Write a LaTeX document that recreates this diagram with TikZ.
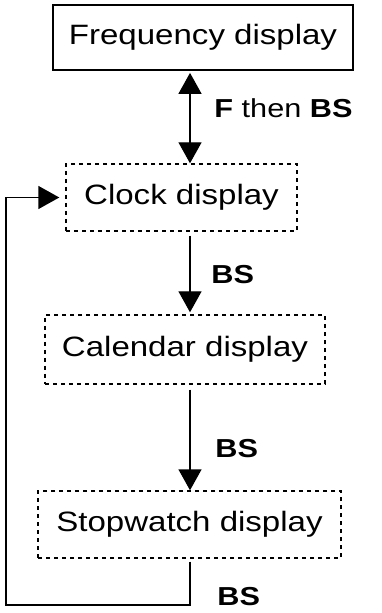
\documentclass[tikz,border=0pt]{standalone}
\usepackage{fontspec}
\setmainfont[FakeStretch=1.18]{Liberation Sans}
\usetikzlibrary{arrows.meta,positioning}
\tikzset{
  dispbox/.style={draw,line width=.9pt,inner sep=0pt,font=\fontsize{14}{16}\selectfont},
  dotbox/.style={dispbox,line width=.7pt,dash pattern=on 2pt off 2pt},
  keylbl/.style={anchor=base west,inner sep=0pt,font=\fontsize{13}{15}\selectfont},
  tip/.tip={Triangle[width=11.5pt,length=10.5pt]},
  flow/.style={line width=.7pt,-tip},
  twoway/.style={line width=.7pt,tip-tip}
}

\begin{document}
\begin{tikzpicture}[x=.5pt,y=-.5pt]
    \useasboundingbox (0,0) rectangle (381,613);
    \node[dispbox,minimum width=150pt,minimum height=32.5pt] (freq) at (203,37.5) {Frequency display};
    \node[dotbox,minimum width=115.5pt,minimum height=33.5pt] (clock) at (181.5,197.5) {Clock display};
    \node[dotbox,minimum width=140pt,minimum height=34.5pt] (cal) at (185,349.5) {Calendar display};
    \node[dotbox,minimum width=151.5pt,minimum height=33.5pt] (stop) at (189.5,524.5) {Stopwatch display};
    \coordinate (spine) at (190,0);
    \coordinate (loopcorner) at (6,605);
    \draw[twoway,shorten <=1pt] (freq.south -| spine) -- (clock.north -| spine);
    \draw[flow,shorten <=2pt,shorten >=1pt] (clock.south -| spine) -- (cal.north -| spine);
    \draw[flow,shorten <=2.5pt] (cal.south -| spine) -- (stop.north -| spine);
    \draw[flow,shorten <=1.5pt,shorten >=3pt] (stop.south -| spine) |- (loopcorner) |- (clock.west);
    \node[keylbl] (fbs) at (214,118) {\textbf{F} then \textbf{BS}};
    \node[keylbl] (bs1) at (211,284) {\textbf{BS}};
    \node[keylbl] (bs2) at (215,457) {\textbf{BS}};
    \node[keylbl] (bs3) at (217,605) {\textbf{BS}};
\end{tikzpicture}
\end{document}
